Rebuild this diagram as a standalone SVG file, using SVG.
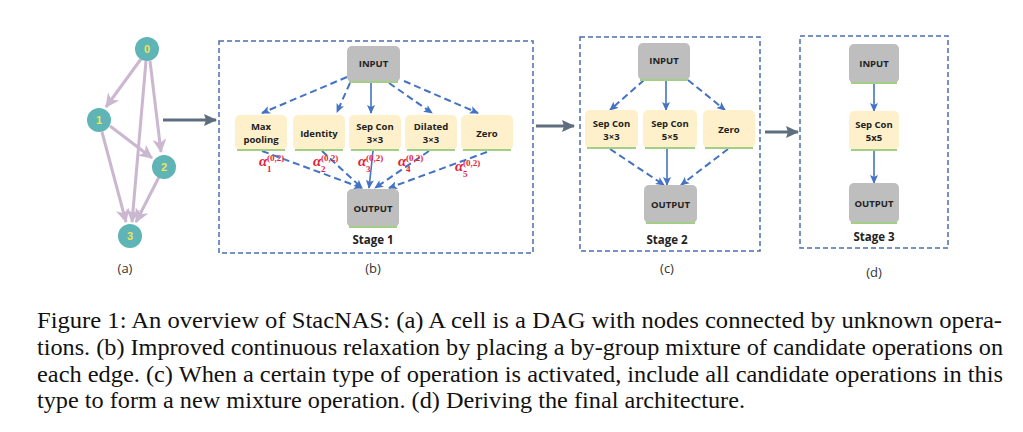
<svg xmlns="http://www.w3.org/2000/svg" width="1023" height="432" viewBox="0 0 1023 432">
<style>
.bg{fill:#ffffff}
.frame{fill:none;stroke:#4a6db0;stroke-width:1.5;stroke-dasharray:5,3}
.gray{fill:#bebebe}
.op{fill:#fdf0cb}
.grn{stroke:#a3cf85;stroke-width:2;fill:none}
.lbl{font-family:"Open Sans","DejaVu Sans",sans-serif;font-weight:bold;font-size:9.5px;fill:#222;text-anchor:middle}
.stage{font-family:"Open Sans","DejaVu Sans",sans-serif;font-weight:bold;font-size:11.5px;fill:#222;text-anchor:middle}
.sub{font-family:"Open Sans","DejaVu Sans",sans-serif;font-size:13px;fill:#333;text-anchor:middle}
.dash{stroke:#4472c4;stroke-width:2;stroke-dasharray:7,4;fill:none;marker-end:url(#bh)}
.solid{stroke:#4472c4;stroke-width:1.6;fill:none;marker-end:url(#bh)}
.dag{stroke:#cbb7cf;stroke-width:3;fill:none;marker-end:url(#lh)}
.big{stroke:#5e6e7e;stroke-width:3;fill:none;marker-end:url(#gh)}
.circ{fill:#5fb4b6}
.num{font-family:"Liberation Sans",Arial,sans-serif;font-weight:bold;font-size:11px;fill:#f1e35f;text-anchor:middle}
.al{font-family:"Liberation Serif","Times New Roman",serif;font-style:italic;font-weight:bold;font-size:15px;fill:#e8213a}
.as{font-family:"Liberation Serif","Times New Roman",serif;font-weight:bold;font-size:9px;fill:#e8213a}
.cap{font-family:"Liberation Serif","Times New Roman",serif;font-size:24px;fill:#111}
</style>
<defs>
<marker id="bh" markerUnits="userSpaceOnUse" markerWidth="9" markerHeight="8" refX="8" refY="4" orient="auto"><path d="M0,0 L9,4 L0,8 L2,4 z" fill="#4472c4"/></marker>
<marker id="lh" markerUnits="userSpaceOnUse" markerWidth="14" markerHeight="14" refX="13" refY="7" orient="auto"><path d="M0,0 L14,7 L0,14 L4,7 z" fill="#cbb7cf"/></marker>
<marker id="gh" markerUnits="userSpaceOnUse" markerWidth="13" markerHeight="12" refX="12" refY="6" orient="auto"><path d="M0,0 L13,6 L0,12 L2,6 z" fill="#5e6e7e"/></marker>
</defs>
<rect class="bg" x="0" y="0" width="1023" height="432"/>

<g id="connectors">
  <line class="dag" x1="141" y1="59" x2="106" y2="107"/>
  <line class="dag" x1="150" y1="61" x2="161" y2="152"/>
  <line class="dag" x1="146" y1="61" x2="132" y2="222"/>
  <line class="dag" x1="110" y1="126" x2="152" y2="158"/>
  <line class="dag" x1="102" y1="132" x2="126" y2="222"/>
  <line class="dag" x1="159" y1="177" x2="136" y2="222"/>
  <line class="big" x1="163" y1="120" x2="216" y2="120"/>
  <line class="big" x1="536" y1="126" x2="574" y2="126"/>
  <line class="big" x1="765" y1="132" x2="798" y2="132"/>
  <line class="dash" x1="347" y1="77" x2="262" y2="113"/>
  <line class="dash" x1="350" y1="83" x2="337" y2="112"/>
  <line class="solid" x1="371" y1="82" x2="371" y2="113"/>
  <line class="dash" x1="389" y1="83" x2="432" y2="113"/>
  <line class="dash" x1="404" y1="81" x2="478" y2="113"/>
  <line class="dash" x1="262" y1="151" x2="362" y2="188"/>
  <line class="dash" x1="322" y1="151" x2="362" y2="188"/>
  <line class="solid" x1="373" y1="151" x2="369" y2="188"/>
  <line class="dash" x1="429" y1="151" x2="375" y2="188"/>
  <line class="dash" x1="487" y1="152" x2="389" y2="188"/>
  <line class="dash" x1="644" y1="80" x2="610" y2="110"/>
  <line class="solid" x1="666" y1="80" x2="666" y2="110"/>
  <line class="dash" x1="688" y1="80" x2="725" y2="110"/>
  <line class="dash" x1="610" y1="149" x2="664" y2="185"/>
  <line class="solid" x1="667" y1="149" x2="667" y2="185"/>
  <line class="dash" x1="728" y1="149" x2="681" y2="185"/>
  <line class="solid" x1="874" y1="84" x2="874" y2="111"/>
  <line class="solid" x1="874" y1="151" x2="874" y2="183"/>
</g>

<g id="panel-a">
  <g id="n0"><circle class="circ" cx="147" cy="49" r="12"/><text class="num" x="147" y="53">0</text></g>
  <g id="n1"><circle class="circ" cx="99" cy="120" r="12"/><text class="num" x="99" y="124">1</text></g>
  <g id="n2"><circle class="circ" cx="164" cy="167" r="12"/><text class="num" x="164" y="171">2</text></g>
  <g id="n3"><circle class="circ" cx="130" cy="236" r="12"/><text class="num" x="130" y="240">3</text></g>
  <text class="sub" x="125" y="273">(a)</text>
</g>

<g id="panel-b">
  <rect class="frame" x="219" y="41" width="314" height="212"/>
  <g id="b-input"><rect class="gray" x="347" y="46" width="53" height="36" rx="5"/><line class="grn" x1="349" y1="82" x2="398" y2="82"/><text class="lbl" x="373.5" y="67">INPUT</text></g>
  <g id="b-max"><rect class="op" x="235" y="115" width="52" height="35" rx="5"/><line class="grn" x1="237" y1="150" x2="285" y2="150"/><text class="lbl" x="261" y="130">Max</text><text class="lbl" x="261" y="143">pooling</text></g>
  <g id="b-id"><rect class="op" x="293" y="115" width="52" height="35" rx="5"/><line class="grn" x1="295" y1="150" x2="343" y2="150"/><text class="lbl" x="319" y="137">Identity</text></g>
  <g id="b-sep"><rect class="op" x="349" y="115" width="52" height="35" rx="5"/><line class="grn" x1="351" y1="150" x2="399" y2="150"/><text class="lbl" x="375" y="130">Sep Con</text><text class="lbl" x="375" y="143">3×3</text></g>
  <g id="b-dil"><rect class="op" x="405" y="115" width="52" height="35" rx="5"/><line class="grn" x1="407" y1="150" x2="455" y2="150"/><text class="lbl" x="431" y="130">Dilated</text><text class="lbl" x="431" y="143">3×3</text></g>
  <g id="b-zero"><rect class="op" x="461" y="115" width="52" height="35" rx="5"/><line class="grn" x1="463" y1="150" x2="511" y2="150"/><text class="lbl" x="487" y="137">Zero</text></g>
  <g id="b-output"><rect class="gray" x="347" y="189" width="52" height="38" rx="5"/><line class="grn" x1="349" y1="227" x2="397" y2="227"/><text class="lbl" x="373" y="212">OUTPUT</text></g>
  <g id="alphas">
    <text class="al" x="259" y="166">α</text><text class="as" x="267" y="172">1</text><text class="as" x="267" y="161">(0,2)</text>
    <text class="al" x="313" y="166">α</text><text class="as" x="321" y="172">2</text><text class="as" x="321" y="161">(0,2)</text>
    <text class="al" x="358" y="166">α</text><text class="as" x="366" y="172">3</text><text class="as" x="366" y="161">(0,2)</text>
    <text class="al" x="398" y="166">α</text><text class="as" x="406" y="172">4</text><text class="as" x="406" y="161">(0,2)</text>
    <text class="al" x="455" y="171">α</text><text class="as" x="463" y="177">5</text><text class="as" x="463" y="166">(0,2)</text>
  </g>
  <text class="stage" x="373" y="244">Stage 1</text>
  <text class="sub" x="373" y="273">(b)</text>
</g>

<g id="panel-c">
  <rect class="frame" x="580" y="37" width="180" height="214"/>
  <g id="c-input"><rect class="gray" x="638" y="43" width="52" height="37" rx="5"/><line class="grn" x1="640" y1="80" x2="688" y2="80"/><text class="lbl" x="664" y="64">INPUT</text></g>
  <g id="c-sep3"><rect class="op" x="585" y="110" width="53" height="38" rx="5"/><line class="grn" x1="587" y1="148" x2="636" y2="148"/><text class="lbl" x="611.5" y="127">Sep Con</text><text class="lbl" x="611.5" y="140">3×3</text></g>
  <g id="c-sep5"><rect class="op" x="643" y="110" width="54" height="38" rx="5"/><line class="grn" x1="645" y1="148" x2="695" y2="148"/><text class="lbl" x="670" y="127">Sep Con</text><text class="lbl" x="670" y="140">5×5</text></g>
  <g id="c-zero"><rect class="op" x="703" y="110" width="52" height="38" rx="5"/><line class="grn" x1="705" y1="148" x2="753" y2="148"/><text class="lbl" x="729" y="133">Zero</text></g>
  <g id="c-output"><rect class="gray" x="644" y="185" width="53" height="38" rx="5"/><line class="grn" x1="646" y1="223" x2="695" y2="223"/><text class="lbl" x="670.5" y="208">OUTPUT</text></g>
  <text class="stage" x="667" y="244">Stage 2</text>
  <text class="sub" x="667" y="273">(c)</text>
</g>

<g id="panel-d">
  <rect class="frame" x="800" y="36" width="148" height="212"/>
  <g id="d-input"><rect class="gray" x="849" y="44" width="50" height="39" rx="5"/><line class="grn" x1="851" y1="83" x2="897" y2="83"/><text class="lbl" x="874" y="67">INPUT</text></g>
  <g id="d-sep"><rect class="op" x="849" y="111" width="50" height="39" rx="5"/><line class="grn" x1="851" y1="150" x2="897" y2="150"/><text class="lbl" x="874" y="128">Sep Con</text><text class="lbl" x="874" y="141">5x5</text></g>
  <g id="d-output"><rect class="gray" x="849" y="183" width="50" height="40" rx="5"/><line class="grn" x1="851" y1="223" x2="897" y2="223"/><text class="lbl" x="874" y="207">OUTPUT</text></g>
  <text class="stage" x="874" y="241">Stage 3</text>
  <text class="sub" x="874" y="277">(d)</text>
</g>

<g id="caption">
  <text class="cap" x="37" y="328" textLength="965" lengthAdjust="spacingAndGlyphs">Figure 1: An overview of StacNAS: (a) A cell is a DAG with nodes connected by unknown opera-</text>
  <text class="cap" x="37" y="355" textLength="966" lengthAdjust="spacingAndGlyphs">tions. (b) Improved continuous relaxation by placing a by-group mixture of candidate operations on</text>
  <text class="cap" x="37" y="382" textLength="966" lengthAdjust="spacingAndGlyphs">each edge. (c) When a certain type of operation is activated, include all candidate operations in this</text>
  <text class="cap" x="37" y="408" textLength="708" lengthAdjust="spacingAndGlyphs">type to form a new mixture operation. (d) Deriving the final architecture.</text>
</g>
</svg>
